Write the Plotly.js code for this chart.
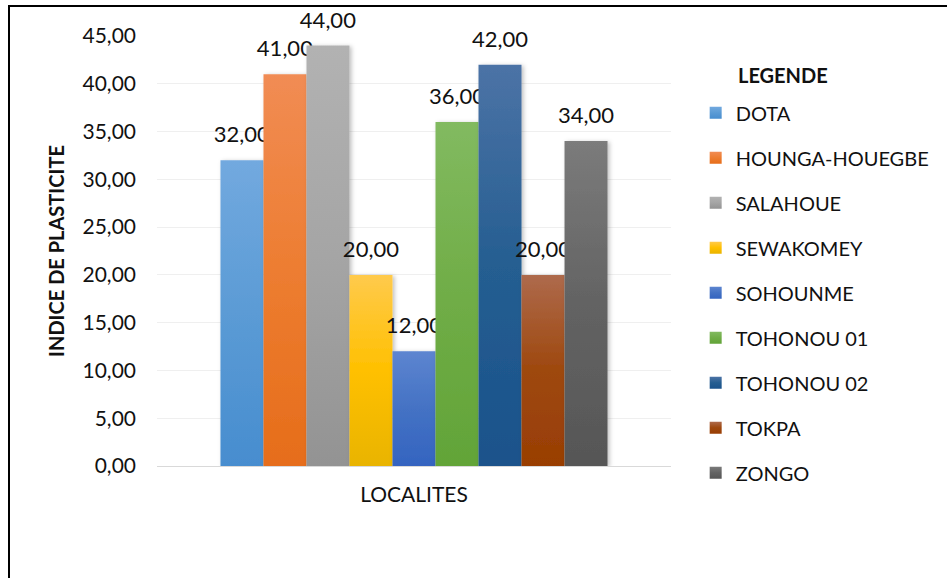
<!DOCTYPE html>
<html>
<head>
<meta charset="utf-8">
<script src="https://cdn.plot.ly/plotly-3.0.1.min.js"></script>
<style>
  html, body { margin: 0; padding: 0; background: #fff; overflow: hidden; width: 947px; height: 578px; }
  #chart { width: 947px; height: 578px; position: absolute; left: 0; top: 0; }
  #frame { position: absolute; left: 8px; top: 5px; width: 939px; height: 573px; box-sizing: border-box;
           border-top: 2px solid #000; border-left: 2px solid #000; pointer-events: none; }
</style>
</head>
<body>
<div id="chart"></div>
<div id="frame"></div>
<script>
// ---- data ----
const category = ['LOCALITES'];
const localites = ['DOTA', 'HOUNGA-HOUEGBE', 'SALAHOUE', 'SEWAKOMEY', 'SOHOUNME',
                   'TOHONOU 01', 'TOHONOU 02', 'TOKPA', 'ZONGO'];
const indicePlasticite = [32, 41, 44, 20, 12, 36, 42, 20, 34];
const yTicks = [0, 5, 10, 15, 20, 25, 30, 35, 40, 45];
const legendTitle = 'LEGENDE';

// ---- styles ----
const baseColors = ['#5b9bd5', '#ed7d31', '#a5a5a5', '#ffc000', '#4472c4',
                    '#70ad47', '#255e91', '#9e480e', '#636363'];
const gradTop =    ['#72a9df', '#f18c54', '#b2b2b2', '#ffca4c', '#5d85d0',
                    '#82ba60', '#4c73a6', '#ae6a4c', '#7b7b7b'];
const gradBottom = ['#478dcf', '#e66d1a', '#939393', '#e9b400', '#3464c0',
                    '#62a438', '#1a528b', '#993e04', '#565656'];

const FONT = 'Lato, "Open Sans", sans-serif';

const traces = localites.map((name, i) => ({
  type: 'bar',
  name: name,
  x: category,
  y: [indicePlasticite[i]],
  marker: { color: baseColors[i], line: { width: 0 } },
  texttemplate: '<span style="font-size:22px">%{y:.2f}</span><br>&nbsp;',
  textposition: 'outside',
  textfont: { family: FONT, size: 10, color: '#111' },
  constraintext: 'none',
  cliponaxis: false,
  legendgroup: 'g' + i,
  hoverinfo: 'name+y'
}));

const layout = {
  width: 947, height: 578,
  margin: { l: 157, r: 272, t: 36, b: 112 },
  paper_bgcolor: '#fff', plot_bgcolor: '#fff',
  separators: ', ',
  barmode: 'group',
  bargap: 0.247,
  bargroupgap: 0,
  font: { family: FONT, size: 21, color: '#111' },
  showlegend: true,
  legend: {
    x: 1.048, xanchor: 'left', y: 0.867, yanchor: 'top',
    maxheight: 560,
    font: { family: FONT, size: 20, color: '#111' },
    tracegroupgap: 16,
    bgcolor: 'rgba(0,0,0,0)'
  },
  annotations: [{
    text: '<b>' + legendTitle + '</b>',
    xref: 'paper', yref: 'paper', x: 1.1255, y: 0.909,
    xanchor: 'left', yanchor: 'middle', showarrow: false,
    font: { family: FONT, size: 20, color: '#111' }
  }],
  xaxis: {
    type: 'category',
    showgrid: false, zeroline: false, showline: false,
    ticks: '', ticklabelstandoff: 14,
    tickfont: { family: FONT, size: 21, color: '#111' },
    automargin: false, fixedrange: true
  },
  yaxis: {
    range: [0, 45],
    tickvals: yTicks,
    tickformat: '.2f',
    showgrid: true, gridcolor: '#efefef', gridwidth: 1,
    zeroline: true, zerolinecolor: '#d9d9d9', zerolinewidth: 1,
    showline: false, ticks: '',
    ticklabelstandoff: 20,
    tickfont: { family: FONT, size: 21, color: '#111' },
    title: { text: '<b>INDICE DE PLASTICITE</b>', standoff: 12,
             font: { family: FONT, size: 20, color: '#111' } },
    automargin: false, fixedrange: true
  }
};

Plotly.newPlot('chart', traces, layout, { displayModeBar: false, staticPlot: true }).then(gd => {
  const svg = gd.querySelector('.main-svg');
  let defs = svg.querySelector('defs');
  const NS = 'http://www.w3.org/2000/svg';
  if (!defs) { defs = document.createElementNS(NS, 'defs'); svg.insertBefore(defs, svg.firstChild); }
  localites.forEach((_, i) => {
    const g = document.createElementNS(NS, 'linearGradient');
    g.setAttribute('id', 'barGrad' + i);
    g.setAttribute('x1', '0'); g.setAttribute('y1', '0');
    g.setAttribute('x2', '0'); g.setAttribute('y2', '1');
    [[0, gradTop[i]], [0.5, baseColors[i]], [1, gradBottom[i]]].forEach(([o, c]) => {
      const s = document.createElementNS(NS, 'stop');
      s.setAttribute('offset', o); s.setAttribute('stop-color', c);
      g.appendChild(s);
    });
    defs.appendChild(g);
  });
  const f = document.createElementNS(NS, 'filter');
  f.setAttribute('id', 'barShadow');
  f.setAttribute('x', '-20%'); f.setAttribute('y', '-5%');
  f.setAttribute('width', '140%'); f.setAttribute('height', '110%');
  const ds = document.createElementNS(NS, 'feDropShadow');
  ds.setAttribute('dx', '2'); ds.setAttribute('dy', '1');
  ds.setAttribute('stdDeviation', '2'); ds.setAttribute('flood-opacity', '0.25');
  f.appendChild(ds); defs.appendChild(f);

  gd.querySelectorAll('.barlayer .trace').forEach((t, i) => {
    t.querySelectorAll('.point path').forEach(p => {
      p.style.fill = 'url(#barGrad' + i + ')';
      p.style.filter = 'url(#barShadow)';
    });
  });
  gd.querySelectorAll('.legend .traces').forEach((t, i) => {
    t.querySelectorAll('.legendpoints path').forEach(p => {
      p.style.fill = 'url(#barGrad' + i + ')';
    });
  });
});
</script>
</body>
</html>
